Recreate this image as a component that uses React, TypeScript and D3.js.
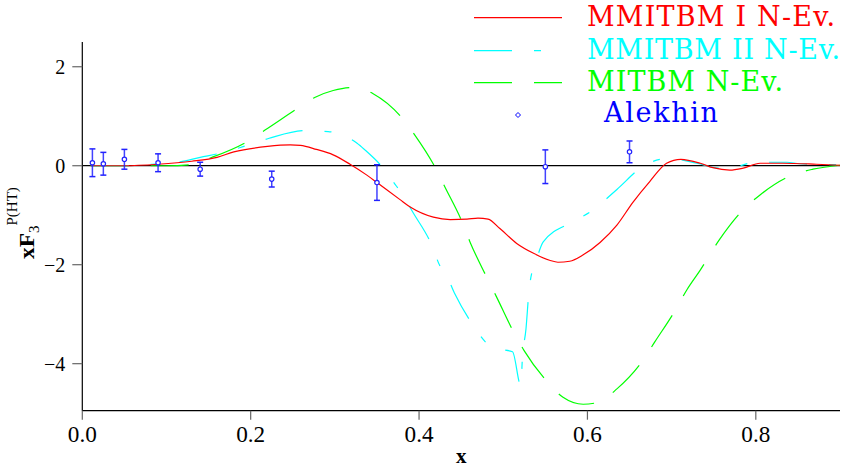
import React from 'react';
import * as d3 from 'd3';

// curves
const redX = [0.01, 0.05, 0.09, 0.13, 0.16, 0.18, 0.22, 0.247, 0.259, 0.278, 0.298, 0.318, 0.338, 0.35, 0.377, 0.39, 0.417, 0.437, 0.457, 0.47, 0.482, 0.496, 0.516, 0.536, 0.555, 0.565, 0.579, 0.595, 0.615, 0.635, 0.654, 0.674, 0.694, 0.711, 0.734, 0.749, 0.769, 0.785, 0.805, 0.832, 0.872, 0.9];
const redY = [0, 0, 0.03, 0.09, 0.17, 0.28, 0.39, 0.42, 0.41, 0.33, 0.22, 0.03, -0.19, -0.34, -0.68, -0.84, -1.04, -1.09, -1.08, -1.06, -1.08, -1.27, -1.57, -1.77, -1.91, -1.95, -1.93, -1.8, -1.55, -1.2, -0.74, -0.32, 0.05, 0.13, 0.05, -0.04, -0.09, -0.05, 0.05, 0.05, 0.03, 0.01];

const cyanX = [0.01, 0.05, 0.09, 0.116, 0.14, 0.163, 0.19, 0.221, 0.2645, 0.292, 0.3, 0.326, 0.3357, 0.3575, 0.373, 0.379, 0.393, 0.415, 0.425, 0.431, 0.442, 0.464, 0.48, 0.488, 0.511, 0.521, 0.5226, 0.527, 0.5305, 0.535, 0.538, 0.5475, 0.583, 0.607, 0.615, 0.635, 0.668, 0.694, 0.7, 0.73, 0.757, 0.773, 0.801, 0.837, 0.852, 0.9];
const cyanY = [0, 0, 0.04, 0.08, 0.17, 0.25, 0.38, 0.55, 0.71, 0.69, 0.67, 0.46, 0.32, -0.05, -0.41, -0.55, -0.95, -1.6, -2.03, -2.16, -2.57, -3.22, -3.58, -3.68, -3.76, -4.45, -3.93, -3.3, -2.55, -2.09, -1.96, -1.54, -1.13, -0.89, -0.78, -0.48, 0.01, 0.14, 0.14, 0.05, -0.05, -0.03, 0.07, 0.07, 0.04, 0.02];

const greenX = [0.01, 0.05, 0.1, 0.128, 0.154, 0.193, 0.217, 0.254, 0.276, 0.298, 0.32, 0.332, 0.345, 0.379, 0.395, 0.419, 0.431, 0.451, 0.461, 0.48, 0.492, 0.512, 0.525, 0.552, 0.571, 0.595, 0.613, 0.635, 0.666, 0.68, 0.704, 0.718, 0.734, 0.757, 0.785, 0.805, 0.843, 0.868, 0.9];
const greenY = [0, 0, 0, 0.02, 0.17, 0.46, 0.72, 1.14, 1.38, 1.52, 1.58, 1.56, 1.46, 0.98, 0.62, -0.03, -0.44, -1.13, -1.56, -2.24, -2.65, -3.35, -3.74, -4.36, -4.68, -4.82, -4.78, -4.51, -3.93, -3.56, -2.93, -2.51, -2.11, -1.49, -0.89, -0.59, -0.19, -0.07, 0.01];

// Alekhin points with errors
const alekhinX = [0.012, 0.025, 0.05, 0.09, 0.14, 0.225, 0.35, 0.55, 0.65];
const alekhinY = [0.06, 0.04, 0.13, 0.06, -0.07, -0.27, -0.34, -0.02, 0.28];
const alekhinErr = [0.28, 0.23, 0.2, 0.18, 0.14, 0.16, 0.36, 0.34, 0.22];

const xTicks = [0, 0.2, 0.4, 0.6, 0.8];
const yTicks = [2, 0, -2, -4];
const legendLabels = ['MMITBM I N-Ev.', 'MMITBM II N-Ev.', 'MITBM N-Ev.', 'Alekhin'];

const W = 850, H = 467;
const left = 82.3, right = 840, top = 42, bottom = 410.7;

export default function App() {
  const x = d3.scaleLinear().domain([0, 0.9]).range([left, right]);
  const y = d3.scaleLinear().domain([-4.95, 2.5]).range([bottom, top]);

  const line = d3.line<[number, number]>()
    .x(d => x(d[0]))
    .y(d => y(d[1]))
    .curve(d3.curveMonotoneX);

  const redPath = line(redX.map((v, i) => [v, redY[i]]));
  const cyanPath = line(cyanX.map((v, i) => [v, cyanY[i]]));
  const greenPath = line(greenX.map((v, i) => [v, greenY[i]]));

  const cyanDash = '38 22 7 22';
  const greenDash = '38 22';
  const legendFont = "'DejaVu Serif', serif";

  return (
    <svg width={W} height={H}
         style={{ position: 'absolute', left: 0, top: 0, background: '#fff', fontFamily: "'Liberation Serif', 'Times New Roman', serif" }}>
      {/* axes */}
      <line x1={left} x2={left} y1={top} y2={bottom} stroke="#000" strokeWidth={1.2}/>
      <line x1={left} x2={right} y1={bottom} y2={bottom} stroke="#000" strokeWidth={1.2}/>
      <line x1={left} x2={right} y1={y(0)} y2={y(0)} stroke="#000" strokeWidth={1.2}/>

      {xTicks.map(t => (
        <g key={'xt' + t}>
          <line x1={x(t)} x2={x(t)} y1={bottom} y2={bottom + 9} stroke="#666" strokeWidth={1.2}/>
          <text x={x(t)} y={bottom + 31} textAnchor="middle" fontSize={24} textLength={29} lengthAdjust="spacingAndGlyphs">{t.toFixed(1)}</text>
        </g>
      ))}
      {yTicks.map(t => (
        <g key={'yt' + t}>
          <line x1={left - 10} x2={left} y1={y(t)} y2={y(t)} stroke="#666" strokeWidth={1.2}/>
          <text x={left - 17} y={y(t) + 7} textAnchor="end" fontSize={20}>{t < 0 ? '\u2212' + Math.abs(t) : t}</text>
        </g>
      ))}

      <text x={(left + right) / 2} y={463} textAnchor="middle" fontSize={21} fontWeight="bold">x</text>
      <text transform="translate(34,259) rotate(-90)" fontSize={21} fontWeight="bold">
        <tspan textLength={26} lengthAdjust="spacingAndGlyphs">xF</tspan>
        <tspan fontSize={15} dy={5} fontWeight="normal">3</tspan>
        <tspan fontSize={15} dy={-22} fontWeight="normal">P(HT)</tspan>
      </text>

      {/* curves */}
      <path d={greenPath || ''} fill="none" stroke="#00ff00" strokeWidth={1.2} strokeDasharray={greenDash}/>
      <path d={cyanPath || ''} fill="none" stroke="#00ffff" strokeWidth={1.2} strokeDasharray={cyanDash}/>
      <path d={redPath || ''} fill="none" stroke="#ff0000" strokeWidth={1.2}/>

      {/* data points */}
      {alekhinX.map((v, i) => {
        const cx = x(v);
        const y0 = y(alekhinY[i] - alekhinErr[i]);
        const y1 = y(alekhinY[i] + alekhinErr[i]);
        return (
          <g key={'p' + i} stroke="#2222ff">
            <line x1={cx} x2={cx} y1={y0} y2={y1} strokeWidth={1.5} opacity={0.85}/>
            <line x1={cx - 3} x2={cx + 3} y1={y0} y2={y0} strokeWidth={1.5}/>
            <line x1={cx - 3} x2={cx + 3} y1={y1} y2={y1} strokeWidth={1.5}/>
            <circle cx={cx} cy={y(alekhinY[i])} r={2.2} fill="#fff" strokeWidth={1.2}/>
          </g>
        );
      })}

      {/* legend */}
      <line x1={474} x2={562} y1={17.7} y2={17.7} stroke="#ff0000" strokeWidth={1.2}/>
      <line x1={474} x2={562} y1={50.7} y2={50.7} stroke="#00ffff" strokeWidth={1.2} strokeDasharray={cyanDash}/>
      <line x1={474} x2={562} y1={82.7} y2={82.7} stroke="#00ff00" strokeWidth={1.2} strokeDasharray={greenDash}/>
      <path d="M518,112.5 L520.5,115 L518,117.5 L515.5,115 Z" fill="#fff" stroke="#0000ff" strokeWidth={1}/>

      <g fontFamily={legendFont} fontSize={27}>
        <text x={587} y={26} fill="#ff0000" textLength={248} lengthAdjust="spacing">{legendLabels[0]}</text>
        <text x={587} y={58.7} fill="#00ffff" textLength={253} lengthAdjust="spacing">{legendLabels[1]}</text>
        <text x={587} y={90.7} fill="#00ff00" textLength={196} lengthAdjust="spacing">{legendLabels[2]}</text>
        <text x={604} y={121.7} fill="#0000ff" textLength={114} lengthAdjust="spacing">{legendLabels[3]}</text>
      </g>
    </svg>
  );
}
